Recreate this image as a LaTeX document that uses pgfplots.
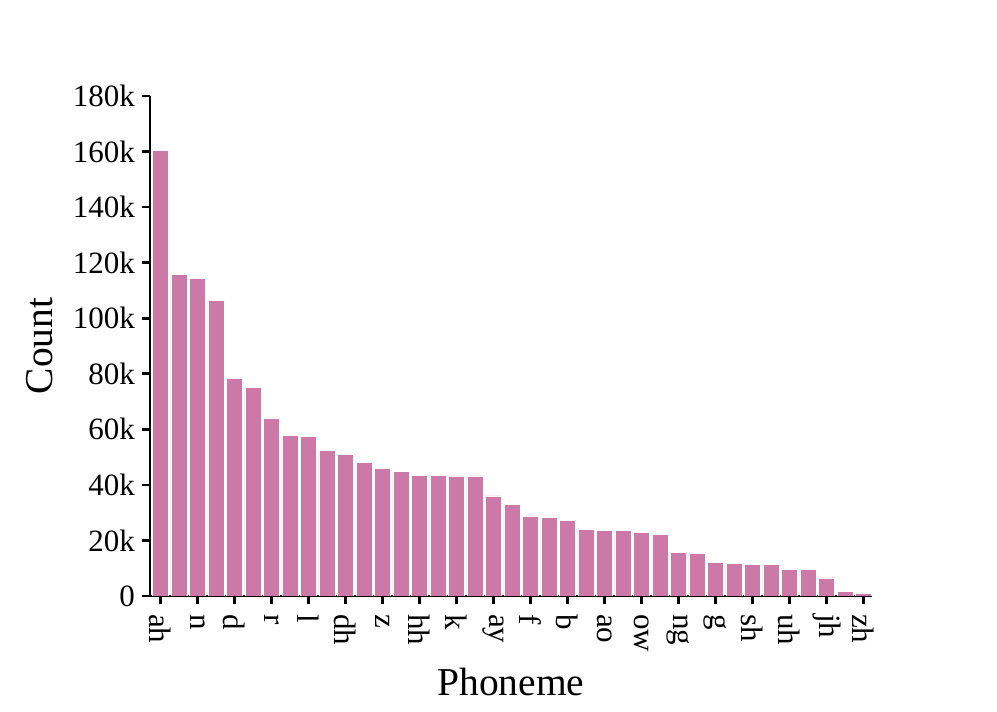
\documentclass[border=0pt]{standalone}
\usepackage{pgfplots}
\pgfplotsset{compat=1.18}
\usepackage{pgfplotstable}
\usepackage{fontspec}
\setmainfont{Liberation Serif}
\definecolor{barpink}{HTML}{CC79A7}

% phoneme counts, sorted by frequency
\pgfplotstableread{
idx name count
0  ah 160400
1  t  115600
2  n  114400
3  ih 106400
4  d  78200
5  s  75000
6  r  64100
7  iy 57700
8  l  57300
9  eh 52300
10 dh 51100
11 m  48200
12 z  46000
13 er 44700
14 hh 43500
15 w  43400
16 k  43200
17 ae 43200
18 ay 36000
19 y  33100
20 f  28800
21 v  28200
22 b  27300
23 p  24000
24 ao 23700
25 ey 23500
26 ow 22900
27 aa 22000
28 ng 15700
29 uw 15400
30 g  12100
31 th 11700
32 sh 11500
33 aw 11300
34 uh 9700
35 ch 9600
36 jh 6500
37 oy 1600
38 zh 800
}\phonemes

\begin{document}
\begin{tikzpicture}
\path[use as bounding box] (-75pt,-58pt) rectangle (423.5pt,298pt);
\begin{axis}[
    at={(0,0)}, anchor=south west,
    scale only axis,
    width=361pt, height=250pt,
    xmin=-0.57, xmax=38.46,
    ymin=0, ymax=180000,
    axis x line*=bottom,
    axis y line*=left,
    axis line style={line width=1.3pt},
    tick style={line width=1.3pt, black},
    tick align=outside,
    major tick length=4pt,
    xtick={0,2,...,38},
    xticklabels={ah,n,d,r,l,dh,z,hh,k,ay,f,b,ao,ow,ng,g,sh,uh,jh,zh},
    ytick={0,20000,...,180000},
    yticklabels={0,20k,40k,60k,80k,100k,120k,140k,160k,180k},
    scaled y ticks=false,
    tick label style={font=\fontsize{15.5}{18}\selectfont},
    xticklabel style={rotate=-90, anchor=west, xshift=1.5pt},
    label style={font=\fontsize{19.75}{23}\selectfont},
    xlabel={Phoneme},
    ylabel={Count},
    xlabel style={at={(axis description cs:0.5,0)}, anchor=center, yshift=-43pt},
    ylabel style={at={(axis description cs:0,0.5)}, anchor=center, yshift=55pt},
    ]
\addplot[ybar, bar width=0.87, fill=barpink, draw=white, line width=0.4pt]
    table[x=idx, y=count] {\phonemes};
\end{axis}
\end{tikzpicture}
\end{document}
